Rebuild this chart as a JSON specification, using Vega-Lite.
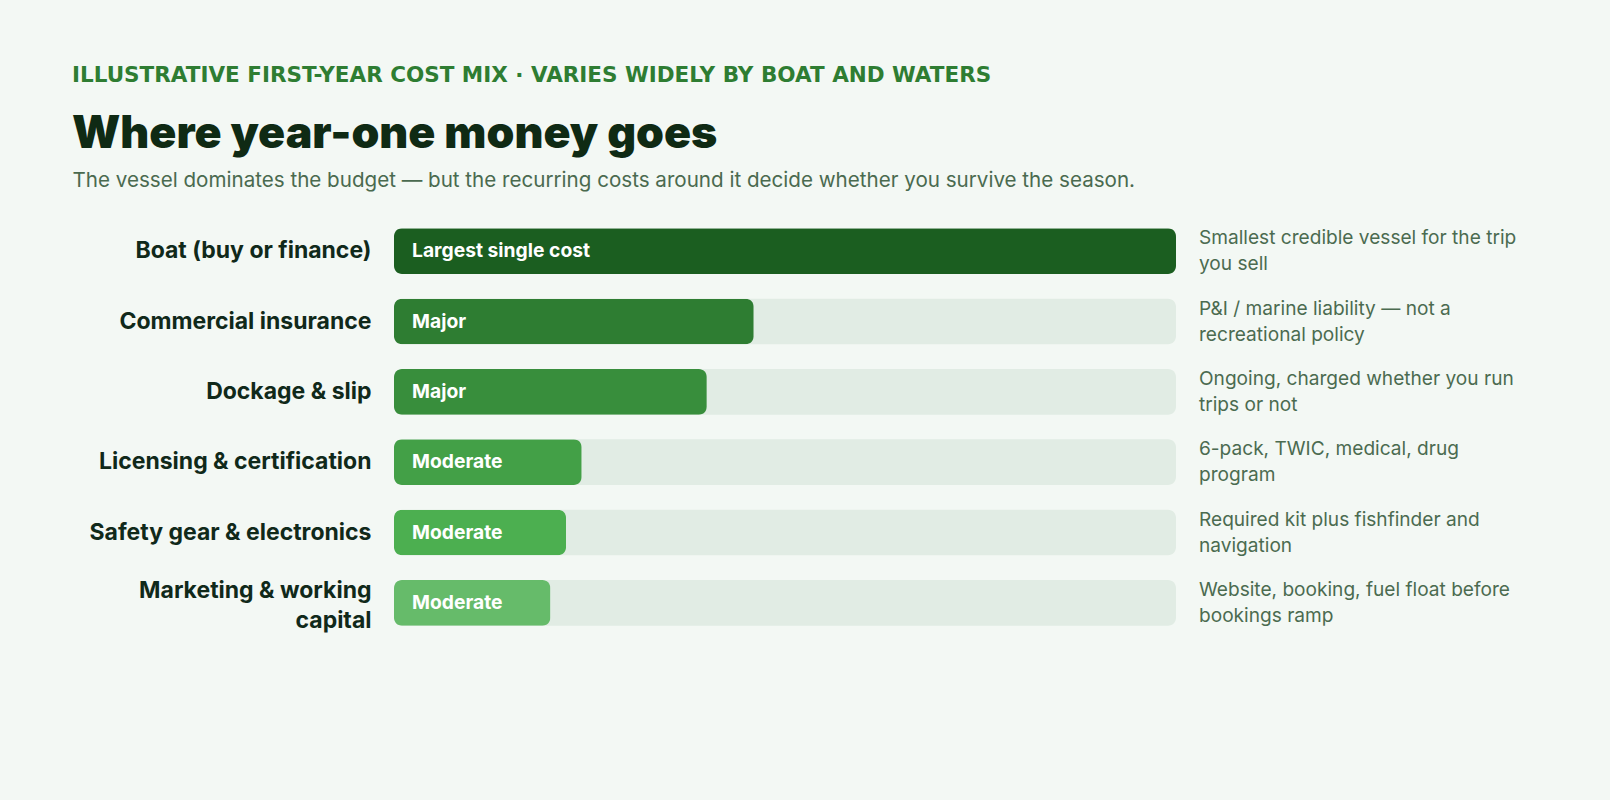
{
  "$schema": "https://vega.github.io/schema/vega-lite/v6.json",
  "width": 782,
  "height": 422,
  "autosize": {"type": "none"},
  "padding": {"left": 394, "top": 216, "right": 434, "bottom": 162},
  "background": "#f3f8f4",
  "title": {
    "text": "ILLUSTRATIVE FIRST-YEAR COST MIX · VARIES WIDELY BY BOAT AND WATERS",
    "subtitle": "Where year-one money goes",
    "anchor": "start",
    "frame": "group",
    "dx": -322,
    "font": "DejaVu Sans",
    "fontSize": 21.5,
    "fontWeight": "bold",
    "color": "#2e7d32",
    "subtitleFont": "Inter",
    "subtitleFontSize": 44.7,
    "subtitleFontWeight": 900,
    "subtitleColor": "#0f2a14",
    "subtitlePadding": 26,
    "offset": 14
  },
  "config": {"view": {"stroke": null}},
  "data": {
    "values": [
      {"category": "Boat (buy or finance)", "share": 100, "level": "Largest single cost", "note": "Smallest credible vessel for the trip\nyou sell"},
      {"category": "Commercial insurance", "share": 46, "level": "Major", "note": "P&I / marine liability — not a\nrecreational policy"},
      {"category": "Dockage & slip", "share": 40, "level": "Major", "note": "Ongoing, charged whether you run\ntrips or not"},
      {"category": "Licensing & certification", "share": 24, "level": "Moderate", "note": "6-pack, TWIC, medical, drug\nprogram"},
      {"category": "Safety gear & electronics", "share": 22, "level": "Moderate", "note": "Required kit plus fishfinder and\nnavigation"},
      {"category": "Marketing & working capital", "share": 20, "level": "Moderate", "note": "Website, booking, fuel float before\nbookings ramp"}
    ]
  },
  "encoding": {
    "y": {
      "field": "category",
      "type": "nominal",
      "sort": null,
      "scale": {"paddingInner": 0.351, "paddingOuter": 0.1755},
      "axis": {
        "title": null,
        "domain": false,
        "ticks": false,
        "labelFont": "Inter",
        "labelFontSize": 23,
        "labelFontWeight": 700,
        "labelColor": "#10291a",
        "labelPadding": 23,
        "labelLimit": 400,
        "labelLineHeight": 30,
        "labelOffset": {"condition": {"test": "datum.value == 'Marketing & working capital'", "value": -12}, "value": 0},
        "labelExpr": "datum.label == 'Marketing & working capital' ? ['Marketing & working', 'capital'] : datum.label"
      }
    }
  },
  "layer": [
    {
      "mark": {"type": "bar", "cornerRadius": 8, "color": "#e1ece4"},
      "encoding": {
        "x": {
          "datum": 100,
          "type": "quantitative",
          "scale": {"domain": [0, 100]},
          "axis": {
            "orient": "top",
            "labels": false,
            "ticks": false,
            "domain": false,
            "grid": false,
            "title": "The vessel dominates the budget — but the recurring costs around it decide whether you survive the season.",
            "titleFont": "Inter",
            "titleFontSize": 20.6,
            "titleFontWeight": 400,
            "titleColor": "#4a6a4f",
            "titleAnchor": "start",
            "titleAlign": "left",
            "titleBaseline": "alphabetic",
            "titleX": -322,
            "titleY": -29.5
          }
        }
      }
    },
    {
      "mark": {"type": "bar", "cornerRadius": 8},
      "encoding": {
        "x": {"field": "share", "type": "quantitative"},
        "color": {
          "field": "category",
          "type": "nominal",
          "legend": null,
          "scale": {
            "domain": ["Boat (buy or finance)", "Commercial insurance", "Dockage & slip", "Licensing & certification", "Safety gear & electronics", "Marketing & working capital"],
            "range": ["#1b5e20", "#2e7d32", "#388e3c", "#43a047", "#4caf50", "#66bb6a"]
          }
        }
      }
    },
    {
      "mark": {"type": "text", "align": "left", "baseline": "middle", "dx": 18, "font": "Inter", "fontSize": 19.3, "fontWeight": 700, "color": "#ffffff"},
      "encoding": {
        "x": {"datum": 0, "type": "quantitative"},
        "text": {"field": "level"}
      }
    },
    {
      "mark": {"type": "text", "align": "left", "baseline": "middle", "dx": 23, "dy": -13, "font": "Inter", "fontSize": 19.1, "lineBreak": "\n", "lineHeight": 26, "color": "#4b6b50"},
      "encoding": {
        "x": {"datum": 100, "type": "quantitative"},
        "text": {"field": "note"}
      }
    }
  ]
}
